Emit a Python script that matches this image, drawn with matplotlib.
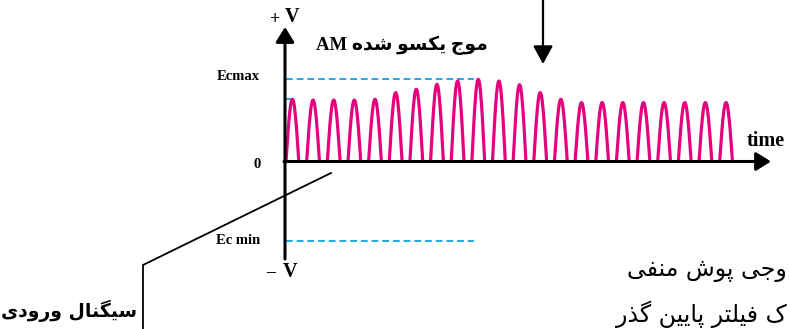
import numpy as np
import matplotlib
matplotlib.use("Agg")
import matplotlib.pyplot as plt
import matplotlib.transforms as mtransforms

plt.rcParams['font.family'] = ['Liberation Serif', 'DejaVu Sans']

# envelope: peak of each rectified carrier hump (volts, arbitrary units)
hump_peaks = [7.5, 7.4, 7.4, 7.4, 7.5, 8.3, 8.7, 9.3, 9.7, 9.9, 9.7,
              9.25, 8.3, 7.5, 7.1, 7.1, 7.1, 7.1, 7.1, 7.1, 7.1, 7.1]
ec_max = 10.0
ec_min = -9.6
ec_level = 7.5

title_fa = "موج یکسو شده"
input_fa = "سیگنال ورودی"
# only the part of the note that is visible in the picture
note_line1 = "وجی پوش منفی"
note_line2 = "ک فیلتر پایین گذر"

# arabic presentation forms: isolated, final, initial, medial
FORMS = {
    'ا': ('\ufe8d', '\ufe8e', None, None),
    'ب': ('\ufe8f', '\ufe90', '\ufe91', '\ufe92'),
    'پ': ('\ufb56', '\ufb57', '\ufb58', '\ufb59'),
    'ت': ('\ufe95', '\ufe96', '\ufe97', '\ufe98'),
    'ج': ('\ufe9d', '\ufe9e', '\ufe9f', '\ufea0'),
    'خ': ('\ufea5', '\ufea6', '\ufea7', '\ufea8'),
    'د': ('\ufea9', '\ufeaa', None, None),
    'ذ': ('\ufeab', '\ufeac', None, None),
    'ر': ('\ufead', '\ufeae', None, None),
    'ز': ('\ufeaf', '\ufeb0', None, None),
    'س': ('\ufeb1', '\ufeb2', '\ufeb3', '\ufeb4'),
    'ش': ('\ufeb5', '\ufeb6', '\ufeb7', '\ufeb8'),
    'ف': ('\ufed1', '\ufed2', '\ufed3', '\ufed4'),
    'ک': ('\ufb8e', '\ufb8f', '\ufb90', '\ufb91'),
    'گ': ('\ufb92', '\ufb93', '\ufb94', '\ufb95'),
    'ل': ('\ufedd', '\ufede', '\ufedf', '\ufee0'),
    'م': ('\ufee1', '\ufee2', '\ufee3', '\ufee4'),
    'ن': ('\ufee5', '\ufee6', '\ufee7', '\ufee8'),
    'ه': ('\ufee9', '\ufeea', '\ufeeb', '\ufeec'),
    'و': ('\ufeed', '\ufeee', None, None),
    'ی': ('\ufbfc', '\ufbfd', '\ufbfe', '\ufbff'),
}


def shape(text):
    # join letters and put them in visual (left to right) order
    out = []
    for i, ch in enumerate(text):
        if ch not in FORMS:
            out.append(ch)
            continue
        prev = text[i - 1] if i > 0 else ''
        nxt = text[i + 1] if i + 1 < len(text) else ''
        iso, fin, ini, med = FORMS[ch]
        j_prev = prev in FORMS and FORMS[prev][2] is not None
        j_next = ini is not None and nxt in FORMS
        if j_prev and j_next:
            out.append(med)
        elif j_prev:
            out.append(fin)
        elif j_next:
            out.append(ini)
        else:
            out.append(iso)
    return ''.join(reversed(out))


W, H = 789, 329
fig = plt.figure(figsize=(W / 100, H / 100), dpi=100)
ax = fig.add_axes([0, 0, 1, 1])
ax.axis('off')

# image pixel coords (origin top left) for the drawing furniture
pix = mtransforms.Affine2D().scale(1 / W, -1 / H).translate(0, 1) + fig.transFigure

# data scale: 1 carrier period = 20.65 px, 1 V = 8.3 px
x0, per = 286.0, 20.65
y0, vs = 161.5, 8.3
ax.set_xlim(-x0 / per, (W - x0) / per)
ax.set_ylim((y0 - H) / vs, y0 / vs)

magenta = '#e5007d'
cyan = '#22a8e0'

# rectified carrier humps
frac = 0.62
s = np.linspace(0, 1, 41)
xs, ys = [], []
for k, a in enumerate(hump_peaks):
    xs += list(k + s * frac) + [np.nan]
    ys += list(a * np.sin(np.pi * s)) + [np.nan]
ax.plot(xs, ys, color=magenta, lw=2.3, solid_capstyle='butt', zorder=2)

ax.plot([0, 9.1], [ec_max, ec_max], color=cyan, lw=1.4, dashes=(3.5, 2), zorder=1)
ax.plot([0, 9.1], [ec_min, ec_min], color=cyan, lw=1.4, dashes=(3.5, 2), zorder=1)
ax.plot([0, 0.3], [ec_level, ec_level], color=cyan, lw=1.4, zorder=1)

# axes with arrows
arr = dict(arrowstyle='-|>,head_length=0.45,head_width=0.28', color='black', lw=2.2,
           shrinkA=0, shrinkB=0, mutation_scale=20)
ax.annotate('', xy=(285, 27), xytext=(285, 259), xycoords=pix, textcoords=pix,
            arrowprops=arr, zorder=3)
ax.annotate('', xy=(771, 161.5), xytext=(284, 161.5), xycoords=pix, textcoords=pix,
            arrowprops=arr, zorder=3)
ax.annotate('', xy=(543, 64), xytext=(543, 0), xycoords=pix, textcoords=pix,
            arrowprops=dict(arrowstyle='-|>,head_length=0.55,head_width=0.3',
                            color='black', lw=1.6, shrinkA=0, shrinkB=0,
                            mutation_scale=20))

# leader line to the input signal label
ax.plot([331, 143, 143], [173, 265, 330], color='black', lw=1.3, transform=pix,
        clip_on=False)

bold = dict(fontweight='bold', color='black')
ax.text(275, 19, '+', transform=pix, ha='center', va='center', fontsize=13, **bold)
ax.text(292, 17, 'V', transform=pix, ha='center', va='center', fontsize=14.5, **bold)
ax.text(271, 273, '\u2013', transform=pix, ha='center', va='center', fontsize=13, **bold)
ax.text(290, 272, 'V', transform=pix, ha='center', va='center', fontsize=14.5, **bold)
ax.text(238, 77, 'Ecmax', transform=pix, ha='center', va='center', fontsize=10.5, **bold)
ax.text(257, 164, '0', transform=pix, ha='center', va='center', fontsize=10.5, **bold)
ax.text(238, 241, 'Ec min', transform=pix, ha='center', va='center', fontsize=10.5, **bold)
ax.text(747, 141, 'time', transform=pix, ha='left', va='center', fontsize=14.5, **bold)

ax.text(402, 45, 'AM ' + shape(title_fa), transform=pix, ha='center', va='center',
        fontsize=13.5, **bold)
ax.text(137, 311, shape(input_fa), transform=pix, ha='right', va='center',
        fontsize=13.5, family='DejaVu Sans', **bold)
ax.text(787, 270, shape(note_line1), transform=pix, ha='right', va='center',
        fontsize=17, family='DejaVu Sans')
ax.text(787, 314, shape(note_line2), transform=pix, ha='right', va='center',
        fontsize=17, family='DejaVu Sans')

fig.savefig('out.png', dpi=100)
